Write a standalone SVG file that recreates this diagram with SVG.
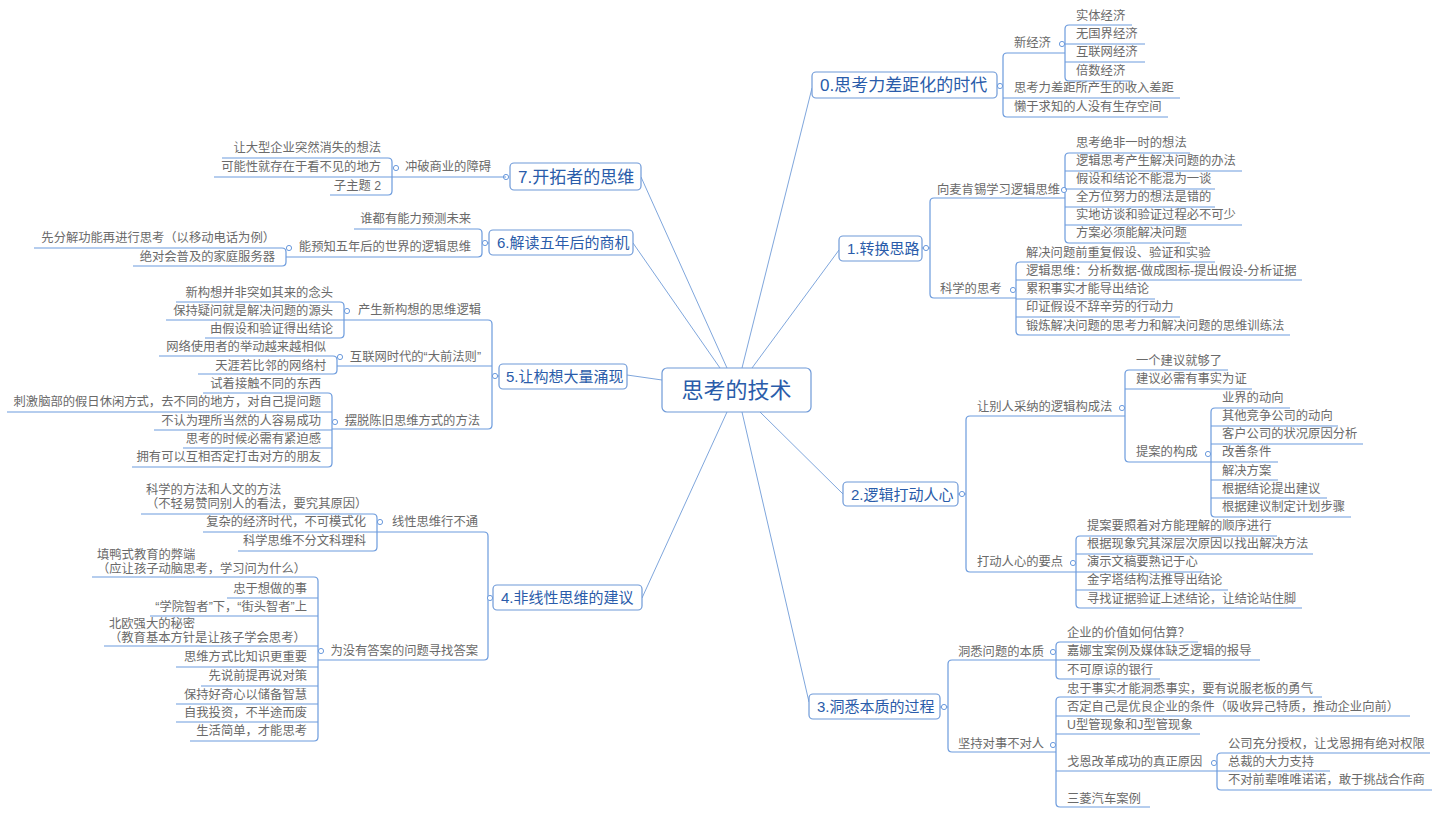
<svg xmlns="http://www.w3.org/2000/svg" width="1440" height="818" viewBox="0 0 1440 818">
<style>
text{font-family:"Liberation Sans","Noto Sans CJK SC",sans-serif}
.s{font-size:12.3px;fill:#6a6a6a}
.r{text-anchor:end}
.ul{stroke:#6c9bdd;stroke-width:1.2;fill:none}
.br{stroke:#6c9bdd;stroke-width:1.2;fill:none}
.ln{stroke:#7fa6dc;stroke-width:1;fill:none}
.box{fill:#fff;stroke:#6f9ad8;stroke-width:1.2}
.mt{font-size:15px;fill:#2a5caa}
.mt2{font-size:17px;fill:#2a5caa}
.ct{font-size:22px;fill:#2a5caa}
.cc{fill:#fff;stroke:#6c9bdd;stroke-width:1}
</style>
<rect width="1440" height="818" fill="#fff"/>
<g id="connectors">
<path class="ln" d="M742 368 L812 88 M752 368 L839 250 M760 412 L843 494 M742 412 L809 702 M727 412 L642 598 M662 380 L627 375 M720 368 L633 243 M727 368 L641 177"/>
<path class="br" d="M997 86 H1003 M922 248 H930 M958 494 H966 M940 707 H948 M499 376 H492 M489 243 H482 M493 598 H488"/>
<path class="br" d="M1007 53 Q1003 53 1003 57 V113 Q1003 117 1007 117"/>
<path class="br" d="M1069 25 Q1065 25 1065 29 V77 Q1065 81 1069 81"/>
<path class="br" d="M934 198 Q930 198 930 202 V294 Q930 298 934 298"/>
<path class="br" d="M1069 153 Q1065 153 1065 157 V239 Q1065 243 1069 243"/>
<path class="br" d="M1020 262 Q1016 262 1016 266 V331 Q1016 335 1020 335"/>
<path class="br" d="M970 416 Q966 416 966 420 V568 Q966 572 970 572"/>
<path class="br" d="M1129 370 Q1125 370 1125 374 V458 Q1125 462 1129 462"/>
<path class="br" d="M1215 408 Q1211 408 1211 412 V513 Q1211 517 1215 517"/>
<path class="br" d="M1080 536 Q1076 536 1076 540 V604 Q1076 608 1080 608"/>
<path class="br" d="M952 660 Q948 660 948 664 V748 Q948 752 952 752"/>
<path class="br" d="M1060 642 Q1056 642 1056 646 V675 Q1056 679 1060 679"/>
<path class="br" d="M1060 697 Q1056 697 1056 701 V803 Q1056 807 1060 807"/>
<path class="br" d="M1221 753 Q1217 753 1217 757 V786 Q1217 790 1221 790"/>
<path class="br" d="M388 158 Q392 158 392 162 V191 Q392 195 388 195"/>
<path class="br" d="M478 229 Q482 229 482 233 V253 Q482 257 478 257"/>
<path class="br" d="M282 248 Q286 248 286 252 V262 Q286 266 282 266"/>
<path class="br" d="M488 320 Q492 320 492 324 V425 Q492 429 488 429"/>
<path class="br" d="M340 302 Q344 302 344 306 V334 Q344 338 340 338"/>
<path class="br" d="M333 356 Q337 356 337 360 V370 Q337 374 333 374"/>
<path class="br" d="M328 393 Q332 393 332 397 V463 Q332 467 328 467"/>
<path class="br" d="M484 532 Q488 532 488 536 V656 Q488 660 484 660"/>
<path class="br" d="M373 514 Q377 514 377 518 V547 Q377 551 373 551"/>
<path class="br" d="M314 577 Q318 577 318 581 V737 Q318 741 314 741"/>
</g>
<g id="central"><rect class="box" x="662" y="368" width="149" height="44" rx="5"/><text class="ct" x="736.5" y="398" text-anchor="middle">思考的技术</text></g>

<g id="t0"><rect class="box" x="812" y="72" width="185" height="26" rx="4"/><text class="mt2" x="820" y="91">0.思考力差距化的时代</text><circle class="cc" cx="1000" cy="86" r="2.6"/></g>
<g id="t0-1"><text class="s" x="1014" y="47">新经济</text><path class="ul" d="M1007 53 H1065"/><circle class="cc" cx="1062" cy="44" r="2.6"/></g>
<g id="t0-1-1"><text class="s" x="1076" y="20">实体经济</text><path class="ul" d="M1069 25 H1132"/></g>
<g id="t0-1-2"><text class="s" x="1076" y="38">无国界经济</text><path class="ul" d="M1065 44 H1145"/></g>
<g id="t0-1-3"><text class="s" x="1076" y="56">互联网经济</text><path class="ul" d="M1065 62 H1145"/></g>
<g id="t0-1-4"><text class="s" x="1076" y="75">倍数经济</text><path class="ul" d="M1069 81 H1132"/></g>
<g id="t0-2"><text class="s" x="1014" y="92">思考力差距所产生的收入差距</text><path class="ul" d="M1003 98 H1180"/></g>
<g id="t0-3"><text class="s" x="1014" y="111">懒于求知的人没有生存空间</text><path class="ul" d="M1007 117 H1168"/></g>

<g id="t1"><rect class="box" x="839" y="236" width="83" height="25" rx="4"/><text class="mt" x="847" y="254">1.转换思路</text><circle class="cc" cx="926" cy="248" r="2.6"/></g>
<g id="t1-1"><text class="s" x="937" y="194">向麦肯锡学习逻辑思维</text><path class="ul" d="M934 198 H1065"/><circle class="cc" cx="1064" cy="190" r="2.6"/></g>
<g id="t1-1-1"><text class="s" x="1076" y="147">思考绝非一时的想法</text><path class="ul" d="M1069 153 H1190"/></g>
<g id="t1-1-2"><text class="s" x="1076" y="165">逻辑思考产生解决问题的办法</text><path class="ul" d="M1065 171 H1242"/></g>
<g id="t1-1-3"><text class="s" x="1076" y="183">假设和结论不能混为一谈</text><path class="ul" d="M1065 189 H1215"/></g>
<g id="t1-1-4"><text class="s" x="1076" y="201">全方位努力的想法是错的</text><path class="ul" d="M1065 207 H1215"/></g>
<g id="t1-1-5"><text class="s" x="1076" y="219">实地访谈和验证过程必不可少</text><path class="ul" d="M1065 225 H1242"/></g>
<g id="t1-1-6"><text class="s" x="1076" y="237">方案必须能解决问题</text><path class="ul" d="M1069 243 H1190"/></g>
<g id="t1-2"><text class="s" x="940" y="293">科学的思考</text><path class="ul" d="M934 298 H1016"/><circle class="cc" cx="1013" cy="290" r="2.6"/></g>
<g id="t1-2-1"><text class="s" x="1026" y="257">解决问题前重复假设、验证和实验</text><path class="ul" d="M1020 262 H1215"/></g>
<g id="t1-2-2"><text class="s" x="1026" y="275">逻辑思维：分析数据-做成图标-提出假设-分析证据</text><path class="ul" d="M1016 280 H1302"/></g>
<g id="t1-2-3"><text class="s" x="1026" y="293">累积事实才能导出结论</text><path class="ul" d="M1016 299 H1155"/></g>
<g id="t1-2-4"><text class="s" x="1026" y="311">印证假设不辞辛劳的行动力</text><path class="ul" d="M1016 317 H1180"/></g>
<g id="t1-2-5"><text class="s" x="1026" y="330">锻炼解决问题的思考力和解决问题的思维训练法</text><path class="ul" d="M1020 335 H1290"/></g>

<g id="t2"><rect class="box" x="843" y="482" width="115" height="24" rx="4"/><text class="mt" x="851" y="499.5">2.逻辑打动人心</text><circle class="cc" cx="962" cy="494" r="2.6"/></g>
<g id="t2-1"><text class="s" x="977" y="411">让别人采纳的逻辑构成法</text><path class="ul" d="M970 416 H1125"/><circle class="cc" cx="1122" cy="408" r="2.6"/></g>
<g id="t2-1-1"><text class="s" x="1136" y="365">一个建议就够了</text><path class="ul" d="M1129 370 H1228"/></g>
<g id="t2-1-2"><text class="s" x="1136" y="383">建议必需有事实为证</text><path class="ul" d="M1125 389 H1252"/></g>
<g id="t2-1-3"><text class="s" x="1136" y="456">提案的构成</text><path class="ul" d="M1129 462 H1211"/><circle class="cc" cx="1208" cy="454" r="2.6"/></g>
<g id="t2-1-3-1"><text class="s" x="1222" y="402">业界的动向</text><path class="ul" d="M1215 408 H1290"/></g>
<g id="t2-1-3-2"><text class="s" x="1222" y="420">其他竞争公司的动向</text><path class="ul" d="M1211 426 H1338"/></g>
<g id="t2-1-3-3"><text class="s" x="1222" y="438">客户公司的状况原因分析</text><path class="ul" d="M1211 444 H1363"/></g>
<g id="t2-1-3-4"><text class="s" x="1222" y="456">改善条件</text><path class="ul" d="M1211 462 H1278"/></g>
<g id="t2-1-3-5"><text class="s" x="1222" y="475">解决方案</text><path class="ul" d="M1211 480 H1278"/></g>
<g id="t2-1-3-6"><text class="s" x="1222" y="493">根据结论提出建议</text><path class="ul" d="M1211 498 H1327"/></g>
<g id="t2-1-3-7"><text class="s" x="1222" y="511">根据建议制定计划步骤</text><path class="ul" d="M1215 517 H1351"/></g>
<g id="t2-2"><text class="s" x="977" y="566">打动人心的要点</text><path class="ul" d="M970 572 H1076"/><circle class="cc" cx="1073" cy="563" r="2.6"/></g>
<g id="t2-2-1"><text class="s" x="1087" y="530">提案要照着对方能理解的顺序进行</text><path class="ul" d="M1080 536 H1277"/></g>
<g id="t2-2-2"><text class="s" x="1087" y="548">根据现象究其深层次原因以找出解决方法</text><path class="ul" d="M1076 554 H1313"/></g>
<g id="t2-2-3"><text class="s" x="1087" y="566">演示文稿要熟记于心</text><path class="ul" d="M1076 572 H1204"/></g>
<g id="t2-2-4"><text class="s" x="1087" y="584">金字塔结构法推导出结论</text><path class="ul" d="M1076 590 H1228"/></g>
<g id="t2-2-5"><text class="s" x="1087" y="603">寻找证据验证上述结论，让结论站住脚</text><path class="ul" d="M1080 608 H1302"/></g>

<g id="t3"><rect class="box" x="809" y="694" width="131" height="25" rx="4"/><text class="mt" x="817" y="712">3.洞悉本质的过程</text><circle class="cc" cx="944" cy="707" r="2.6"/></g>
<g id="t3-1"><text class="s" x="958" y="656">洞悉问题的本质</text><path class="ul" d="M952 660 H1056"/><circle class="cc" cx="1053" cy="652" r="2.6"/></g>
<g id="t3-1-1"><text class="s" x="1067" y="637">企业的价值如何估算？</text><path class="ul" d="M1060 642 H1198"/></g>
<g id="t3-1-2"><text class="s" x="1067" y="655">嘉娜宝案例及媒体缺乏逻辑的报导</text><path class="ul" d="M1056 660 H1260"/></g>
<g id="t3-1-3"><text class="s" x="1067" y="674">不可原谅的银行</text><path class="ul" d="M1060 679 H1160"/></g>
<g id="t3-2"><text class="s" x="958" y="748">坚持对事不对人</text><path class="ul" d="M952 752 H1056"/><circle class="cc" cx="1053" cy="745" r="2.6"/></g>
<g id="t3-2-1"><text class="s" x="1067" y="693">忠于事实才能洞悉事实，要有说服老板的勇气</text><path class="ul" d="M1060 697 H1322"/></g>
<g id="t3-2-2"><text class="s" x="1067" y="711">否定自己是优良企业的条件（吸收异己特质，推动企业向前）</text><path class="ul" d="M1056 716 H1410"/></g>
<g id="t3-2-3"><text class="s" x="1067" y="729">U型管现象和J型管现象</text><path class="ul" d="M1056 734 H1200"/></g>
<g id="t3-2-4"><text class="s" x="1067" y="766">戈恩改革成功的真正原因</text><path class="ul" d="M1056 771 H1217"/><circle class="cc" cx="1214" cy="763" r="2.6"/></g>
<g id="t3-2-4-1"><text class="s" x="1228" y="748">公司充分授权，让戈恩拥有绝对权限</text><path class="ul" d="M1221 753 H1430"/></g>
<g id="t3-2-4-2"><text class="s" x="1228" y="766">总裁的大力支持</text><path class="ul" d="M1217 771 H1330"/></g>
<g id="t3-2-4-3"><text class="s" x="1228" y="784">不对前辈唯唯诺诺，敢于挑战合作商</text><path class="ul" d="M1221 790 H1432"/></g>
<g id="t3-2-5"><text class="s" x="1067" y="803">三菱汽车案例</text><path class="ul" d="M1060 807 H1150"/></g>

<g id="t7"><rect class="box" x="510" y="163" width="131" height="27" rx="4"/><text class="mt2" x="518" y="183">7.开拓者的思维</text><circle class="cc" cx="506" cy="177" r="2.6"/></g>
<g id="t7-1"><text class="s r" x="491" y="171">冲破商业的障碍</text><path class="ul" d="M392 177 H506"/><circle class="cc" cx="396" cy="168" r="2.6"/></g>
<g id="t7-1-1"><text class="s r" x="381" y="152">让大型企业突然消失的想法</text><path class="ul" d="M222 158 H388"/></g>
<g id="t7-1-2"><text class="s r" x="381" y="171">可能性就存在于看不见的地方</text><path class="ul" d="M214 177 H392"/></g>
<g id="t7-1-3"><text class="s r" x="381" y="190">子主题 2</text><path class="ul" d="M330 195 H388"/></g>

<g id="t6"><rect class="box" x="489" y="230" width="144" height="25" rx="4"/><text class="mt" x="497" y="248">6.解读五年后的商机</text><circle class="cc" cx="485" cy="243" r="2.6"/></g>
<g id="t6-1"><text class="s r" x="471" y="223">谁都有能力预测未来</text><path class="ul" d="M354 229 H478"/></g>
<g id="t6-2"><text class="s r" x="471" y="251">能预知五年后的世界的逻辑思维</text><path class="ul" d="M286 257 H478"/><circle class="cc" cx="289" cy="248" r="2.6"/></g>
<g id="t6-2-1"><text class="s r" x="275" y="242">先分解功能再进行思考（以移动电话为例）</text><path class="ul" d="M34 248 H282"/></g>
<g id="t6-2-2"><text class="s r" x="275" y="261">绝对会普及的家庭服务器</text><path class="ul" d="M133 266 H282"/></g>

<g id="t5"><rect class="box" x="499" y="364" width="128" height="25" rx="4"/><text class="mt" x="506" y="382">5.让构想大量涌现</text><circle class="cc" cx="495" cy="376" r="2.6"/></g>
<g id="t5-1"><text class="s r" x="481" y="314">产生新构想的思维逻辑</text><path class="ul" d="M344 320 H488"/><circle class="cc" cx="347" cy="311" r="2.6"/></g>
<g id="t5-1-1"><text class="s r" x="333" y="297">新构想并非突如其来的念头</text><path class="ul" d="M176 302 H340"/></g>
<g id="t5-1-2"><text class="s r" x="333" y="315">保持疑问就是解决问题的源头</text><path class="ul" d="M166 320 H344"/></g>
<g id="t5-1-3"><text class="s r" x="333" y="333">由假设和验证得出结论</text><path class="ul" d="M205 338 H340"/></g>
<g id="t5-2"><text class="s r" x="481" y="361">互联网时代的“大前法则”</text><path class="ul" d="M337 366 H492"/><circle class="cc" cx="340" cy="357" r="2.6"/></g>
<g id="t5-2-1"><text class="s r" x="326" y="351">网络使用者的举动越来越相似</text><path class="ul" d="M159 356 H333"/></g>
<g id="t5-2-2"><text class="s r" x="326" y="370">天涯若比邻的网络村</text><path class="ul" d="M198 374 H333"/></g>
<g id="t5-3"><text class="s r" x="480" y="425">摆脱陈旧思维方式的方法</text><path class="ul" d="M332 429 H488"/><circle class="cc" cx="335" cy="422" r="2.6"/></g>
<g id="t5-3-1"><text class="s r" x="321" y="388">试着接触不同的东西</text><path class="ul" d="M203 393 H328"/></g>
<g id="t5-3-2"><text class="s r" x="321" y="406">刺激脑部的假日休闲方式，去不同的地方，对自己提问题</text><path class="ul" d="M7 412 H332"/></g>
<g id="t5-3-3"><text class="s r" x="321" y="425">不认为理所当然的人容易成功</text><path class="ul" d="M154 430 H332"/></g>
<g id="t5-3-4"><text class="s r" x="321" y="443">思考的时候必需有紧迫感</text><path class="ul" d="M183 448 H332"/></g>
<g id="t5-3-5"><text class="s r" x="321" y="461">拥有可以互相否定打击对方的朋友</text><path class="ul" d="M132 467 H328"/></g>

<g id="t4"><rect class="box" x="493" y="585" width="149" height="25" rx="4"/><text class="mt" x="501" y="603">4.非线性思维的建议</text><circle class="cc" cx="490" cy="598" r="2.6"/></g>
<g id="t4-1"><text class="s r" x="478" y="526">线性思维行不通</text><path class="ul" d="M377 532 H484"/><circle class="cc" cx="380" cy="522" r="2.6"/></g>
<g id="t4-1-1"><text class="s" x="146" y="494">科学的方法和人文的方法<tspan x="146" dy="14">（不轻易赞同别人的看法，要究其原因）</tspan></text><path class="ul" d="M141 514 H373"/></g>
<g id="t4-1-2"><text class="s r" x="366" y="526">复杂的经济时代，不可模式化</text><path class="ul" d="M203 532 H377"/></g>
<g id="t4-1-3"><text class="s r" x="366" y="545">科学思维不分文科理科</text><path class="ul" d="M238 551 H373"/></g>
<g id="t4-2"><text class="s r" x="478" y="655">为没有答案的问题寻找答案</text><path class="ul" d="M318 660 H484"/><circle class="cc" cx="321" cy="651" r="2.6"/></g>
<g id="t4-2-1"><text class="s" x="97" y="559">填鸭式教育的弊端<tspan x="97" dy="14">（应让孩子动脑思考，学习问为什么）</tspan></text><path class="ul" d="M92 577 H314"/></g>
<g id="t4-2-2"><text class="s r" x="307" y="593">忠于想做的事</text><path class="ul" d="M227 598 H318"/></g>
<g id="t4-2-3"><text class="s r" x="307" y="611">“学院智者”下，“街头智者”上</text><path class="ul" d="M150 616 H318"/></g>
<g id="t4-2-4"><text class="s" x="109" y="628">北欧强大的秘密<tspan x="109" dy="14">（教育基本方针是让孩子学会思考）</tspan></text><path class="ul" d="M104 646 H318"/></g>
<g id="t4-2-5"><text class="s r" x="307" y="661">思维方式比知识更重要</text><path class="ul" d="M176 667 H318"/></g>
<g id="t4-2-6"><text class="s r" x="307" y="680">先说前提再说对策</text><path class="ul" d="M201 686 H318"/></g>
<g id="t4-2-7"><text class="s r" x="307" y="699">保持好奇心以储备智慧</text><path class="ul" d="M176 704 H318"/></g>
<g id="t4-2-8"><text class="s r" x="307" y="717">自我投资，不半途而废</text><path class="ul" d="M176 722 H318"/></g>
<g id="t4-2-9"><text class="s r" x="307" y="735">生活简单，才能思考</text><path class="ul" d="M190 741 H314"/></g>
</svg>
